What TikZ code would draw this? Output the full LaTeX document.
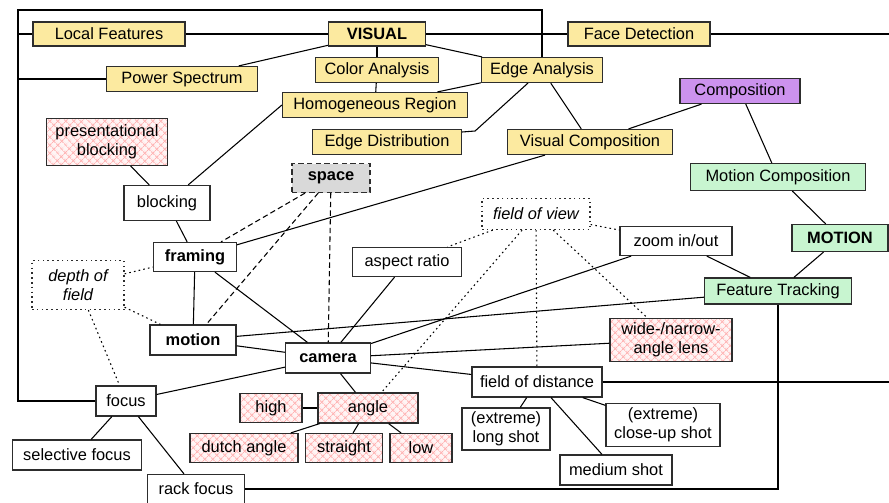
\documentclass[tikz,border=0pt]{standalone}
\usepackage{fontspec}
\setmainfont{Liberation Sans}
\usetikzlibrary{patterns.meta}
\definecolor{visyellow}{RGB}{252,234,160}
\definecolor{motgreen}{RGB}{200,245,208}
\definecolor{compviolet}{RGB}{204,146,238}
\definecolor{rim}{RGB}{45,45,45}
\tikzstyle{box} = [draw=rim, line width=0.9pt, inner sep=0pt, align=center, font={\fontsize{12.3}{14.5}\selectfont}]
\tikzstyle{key} = [font={\fontsize{12.3}{14.5}\selectfont\bfseries}]
\tikzstyle{visbox} = [box, fill=visyellow]
\tikzstyle{motbox} = [box, fill=motgreen]
\tikzstyle{compbox} = [box, fill=compviolet]
\tikzstyle{hatched} = [box, preaction={fill=red!4}, pattern={Hatch[angle=45,distance=4pt,line width=0.7pt]}, pattern color=red!30]
\tikzstyle{idea} = [box, dash pattern=on 1.2pt off 2.4pt, font={\fontsize{12.3}{14.5}\selectfont\itshape}]
\tikzstyle{spacebox} = [box, key, fill=gray!30, dash pattern=on 4pt off 2.5pt]
\tikzstyle{link} = [line width=0.8pt]
\tikzstyle{dotlink} = [link, dash pattern=on 1.2pt off 2.4pt]
\tikzstyle{dashlink} = [link, dash pattern=on 4pt off 2.5pt]
\tikzset{wh/.style 2 args={minimum width=#1*0.75pt, minimum height=#2*0.75pt}}

\begin{document}
\begin{tikzpicture}[x=0.75pt, y=-0.75pt]
    \useasboundingbox (0,0) rectangle (889,503);
    \coordinate (tl) at (18,10);
    \coordinate (re) at (889,0);
    % visual features
    \node[visbox,wh={152}{24}](lf) at (109,34){Local Features};
    \node[visbox,key,wh={97}{24}](visual) at (377,34){VISUAL};
    \node[visbox,wh={142}{24}](fd) at (639,34){Face Detection};
    \node[visbox,wh={151}{25}](ps) at (182,79){Power Spectrum};
    \node[visbox,wh={123}{25}](ca) at (377,70){Color Analysis};
    \node[visbox,wh={121}{25}](ea) at (542,70){Edge Analysis};
    \node[visbox,wh={185}{25}](hr) at (375,105){Homogeneous Region};
    \node[visbox,wh={149}{25}](ed) at (387,142){Edge Distribution};
    \node[visbox,wh={165}{25}](vc) at (590,142){Visual Composition};
    \node[compbox,wh={120}{25}](comp) at (740,91){Composition};
    % motion features
    \node[motbox,wh={175}{27}](mc) at (778,177){Motion Composition};
    \node[motbox,key,wh={96}{27}](mot) at (840,238){MOTION};
    \node[motbox,wh={147}{26}](ft) at (778,291){Feature Tracking};
    % film terms
    \node[hatched,wh={121}{47}](pb) at (107,142){presentational\\blocking};
    \node[box,wh={86}{35}](blk) at (167,203){blocking};
    \node[spacebox,wh={78}{29}](spc) at (331,178){space};
    \node[box,key,wh={83}{29}](frm) at (195,257){framing};
    \node[idea,wh={92}{49}](dof) at (78,285){depth of\\field};
    \node[idea,wh={108}{31}](fov) at (536,214){field of view};
    \node[box,wh={109}{29}](ar) at (407,262){aspect ratio};
    \node[box,wh={112}{29}](zoom) at (676,241){zoom in/out};
    \node[box,key,wh={86}{30}](mtn) at (193,340){motion};
    \node[box,key,wh={85}{30}](cam) at (328,358){camera};
    \node[hatched,wh={122}{43}](lens) at (671,340){wide-/narrow-\\angle lens};
    \node[box,wh={130}{30}](fod) at (537,382){field of distance};
    \node[box,wh={60}{30}](foc) at (126,401){focus};
    \node[hatched,wh={62}{29}](high) at (271,408){high};
    \node[hatched,wh={100}{30}](ang) at (368,408){angle};
    \node[hatched,wh={108}{29}](dutch) at (244,448){dutch angle};
    \node[hatched,wh={77}{29}](str) at (344,448){straight};
    \node[hatched,wh={62}{29}](low) at (421,448){low};
    \node[box,wh={88}{42}](ls) at (506,429){(extreme)\\long shot};
    \node[box,wh={114}{43}](cu) at (663,425){(extreme)\\close-up shot};
    \node[box,wh={112}{30}](ms) at (616,470){medium shot};
    \node[box,wh={129}{30}](sf) at (77,455){selective focus};
    \node[box,wh={97}{29}](rf) at (196,489){rack focus};

    % frame and border lines
    \draw[link](foc.west) -| (tl) -| (ea.north);
    \draw[link](lf.west) -- (lf.west -| tl);
    \draw[link](ps.west) -- (ps.west -| tl);
    \draw[link](fd.east) -- (fd.east -| re);
    \draw[link](fod.east) -- (fod.east -| re);
    \draw[link](ft.south) |- (rf.east);
    % visual links
    \draw[link](lf)--(visual);
    \draw[link](visual)--(fd);
    \draw[link](visual)--(ps);
    \draw[link](visual)--(ca);
    \draw[link](visual)--(ea);
    \draw[link](ca)--(hr);
    \draw[link](ea)--(hr);
    \draw[link]([yshift=7.5pt]ed.east) -- ++(13,-1) -- (ea.223);
    \draw[link](ea)--(vc);
    \draw[link](comp)--(vc);
    \draw[link](comp)--(mc);
    \draw[link](mc)--(mot);
    \draw[link](mot)--(ft);
    \draw[link](zoom)--(ft);
    \draw[link](ft)--(mtn);
    \draw[link](vc)--(frm);
    \draw[link](hr.west)--(blk);
    \draw[link](pb)--(blk);
    \draw[link](blk)--(frm);
    \draw[link](frm)--(mtn);
    \draw[link](frm)--(cam);
    \draw[link](mtn)--(cam);
    \draw[link](foc)--(cam);
    \draw[link](ar)--(cam);
    \draw[link](cam)--(zoom);
    \draw[link](cam)--(lens);
    \draw[link](cam)--(fod);
    \draw[link](cam)--(ang);
    \draw[link](fod)--(ls);
    \draw[link](fod)--(ms);
    \draw[link](fod)--(cu);
    \draw[link](ang)--(high);
    \draw[link](ang)--(dutch);
    \draw[link](ang)--(str);
    \draw[link](ang)--(low);
    \draw[link](foc)--(sf);
    \draw[link](foc)--(rf);
    % space
    \draw[dashlink](spc)--(cam);
    \draw[dashlink](spc)--(frm);
    \draw[dashlink](spc)--(mtn);
    % depth of field, field of view
    \draw[dotlink](dof)--(frm);
    \draw[dotlink](dof)--(mtn);
    \draw[dotlink](dof)--(foc);
    \draw[dotlink](fov)--(ar);
    \draw[dotlink](fov)--(ang);
    \draw[dotlink](fov)--(fod);
    \draw[dotlink](fov)--(lens);
    \draw[dotlink](fov)--(zoom);
\end{tikzpicture}
\end{document}
